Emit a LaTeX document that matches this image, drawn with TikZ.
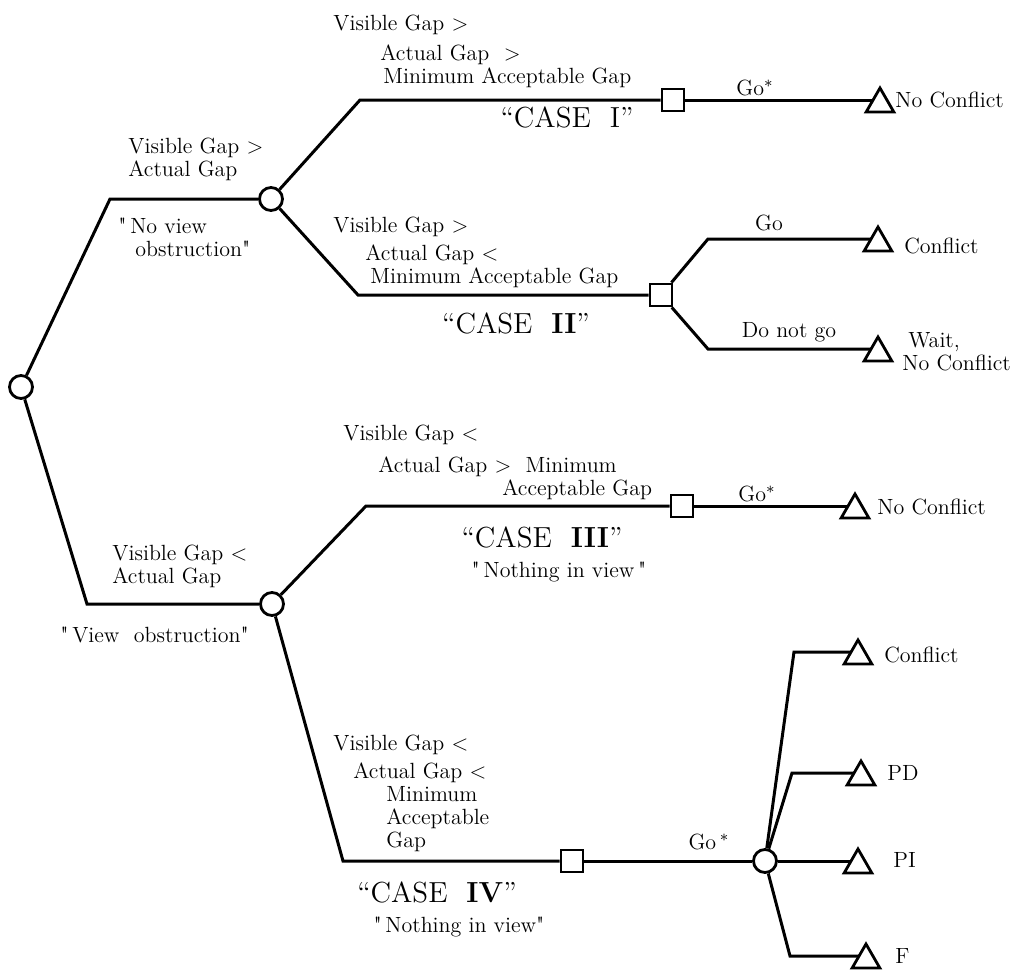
\documentclass[tikz,border=0pt]{standalone}
\usepackage{fontspec}
\usepackage{tikz}
\usetikzlibrary{shapes.geometric}
\newfontfamily\qfont{Latin Modern Roman}
\newcommand{\strq}{{\qfont"}}
\tikzset{
  chance/.style={draw, circle, line width=1.4pt, inner sep=0pt, minimum size=11.5pt, fill=white},
  decision/.style={draw, rectangle, line width=1.4pt, inner sep=0pt, minimum size=11pt, fill=white},
  outcome/.style={draw, regular polygon, regular polygon sides=3, line width=1.4pt, inner sep=0pt, outer sep=0pt, minimum size=16pt, yshift=-2pt},
  branch/.style={line width=1.5pt},
  lbl/.style={inner sep=0pt, font=\fontsize{11}{11.5}\selectfont, align=left},
  casetxt/.style={inner sep=0pt, font=\fontsize{14.5}{16}\selectfont},
}
\begin{document}
\begin{tikzpicture}[x=0.5pt, y=-0.5pt]
    \useasboundingbox (0,0) rectangle (1025,971);

    % chance and decision points
    \node[chance] (root) at (21,387) {};
    \node[chance] (nov) at (271,199) {};
    \node[chance] (obs) at (272,604) {};
    \node[decision] (d1) at (673,100) {};
    \node[decision] (d2) at (661,295) {};
    \node[decision] (d3) at (682,506) {};
    \node[decision] (d4) at (572,861) {};
    \node[chance] (c4) at (765,861) {};

    % outcomes
    \node[outcome] (t1) at (880,100) {};
    \node[outcome] (t2) at (878,239) {};
    \node[outcome] (t3) at (878,349) {};
    \node[outcome] (t4) at (855,506) {};
    \node[outcome] (t5) at (858,652) {};
    \node[outcome] (t6) at (861,773) {};
    \node[outcome] (t7) at (858,861) {};
    \node[outcome] (t8) at (866,956) {};

    % bends
    \coordinate (k1) at (110,199);
    \coordinate (k2) at (87,604);
    \coordinate (k3) at (360,100);
    \coordinate (k4) at (358,295);
    \coordinate (k5) at (708,239);
    \coordinate (k6) at (708,349);
    \coordinate (k7) at (366,506);
    \coordinate (k8) at (343,861);
    \coordinate (k9) at (794,652);
    \coordinate (k10) at (792,773);
    \coordinate (k11) at (790,956);

    \draw[branch] (root) -- (k1) -- (nov);
    \draw[branch] (root) -- (k2) -- (obs);
    \draw[branch] (nov) -- (k3) -- (d1);
    \draw[branch] (nov) -- (k4) -- (d2);
    \draw[branch] (d1) -- (t1.side 1);
    \draw[branch] (d2) -- (k5) -- (t2.side 1);
    \draw[branch] (d2) -- (k6) -- (t3.side 1);
    \draw[branch] (obs) -- (k7) -- (d3);
    \draw[branch] (d3) -- (t4.side 1);
    \draw[branch] (obs) -- (k8) -- (d4);
    \draw[branch] (d4) -- (c4);
    \draw[branch] (c4) -- (k9) -- (t5.side 1);
    \draw[branch] (c4) -- (k10) -- (t6.side 1);
    \draw[branch] (c4) -- (t7.side 1);
    \draw[branch] (c4) -- (k11) -- (t8.side 1);

    % conditions
    \node[lbl, anchor=north west] (vgtop) at (128,138) {Visible Gap >\\Actual Gap};
    \node[lbl, anchor=north west] (noobs) at (118,218) {\strq\,No view\\\hspace*{8.5pt}obstruction\strq};
    \node[lbl, anchor=north west] (vgbot) at (112,545) {Visible Gap <\\Actual Gap};
    \node[lbl, anchor=north west] (obstr) at (60,627) {\strq\,View\ \ obstruction\strq};

    \node[lbl, anchor=north west] (cond1) at (333,15) {Visible Gap >\\[3.5pt]\hspace*{23.5pt}Actual Gap\ \ >\\\hspace*{25pt}Minimum Acceptable Gap};
    \node[lbl, anchor=north west] (cond2) at (333,217) {Visible Gap >\\[2.5pt]\hspace*{16pt}Actual Gap <\\\hspace*{18.5pt}Minimum Acceptable Gap};
    \node[lbl, anchor=north west] (cond3) at (343,425) {Visible Gap <\\[4.5pt]\hspace*{17.5pt}Actual Gap >\ \ Minimum\\\hspace*{79.5pt}Acceptable Gap};
    \node[lbl, anchor=north west] (cond4) at (333,735) {Visible Gap <\\[2.5pt]\hspace*{10pt}Actual Gap <\\\hspace*{26.5pt}Minimum\\\hspace*{26.5pt}Acceptable\\\hspace*{26.5pt}Gap};

    % cases
    \node[casetxt] (case1) at (567,117) {“CASE\ \ I”};
    \node[casetxt] (case2) at (516,323) {“CASE\ \ \textbf{II}”};
    \node[casetxt] (case3) at (542,537) {“CASE\ \ \textbf{III}”};
    \node[casetxt] (case4) at (437,892) {“CASE\ \ \textbf{IV}”};
    \node[lbl] (niv3) at (559,572) {\strq\,Nothing in view\,\strq};
    \node[lbl] (niv4) at (459,927) {\strq\,Nothing in view\strq};

    % actions
    \node[lbl] (go1) at (755,88) {Go$^*$};
    \node[lbl] (go2) at (769,223) {Go};
    \node[lbl] (nogo) at (789,332) {Do not go};
    \node[lbl] (go3) at (757,494) {Go$^*$};
    \node[lbl] (go4) at (709,842) {Go\,$^*$};

    % results
    \node[lbl, anchor=west] (r1) at (895,100) {No Conflict};
    \node[lbl, anchor=west] (r2) at (904,246) {Conflict};
    \node[lbl, anchor=west] (r3) at (902,352) {\hspace*{3pt}Wait,\\No Conflict};
    \node[lbl, anchor=west] (r4) at (877,507) {No Conflict};
    \node[lbl, anchor=west] (r5) at (884,655) {Conflict};
    \node[lbl, anchor=west] (r6) at (887,773) {PD};
    \node[lbl, anchor=west] (r7) at (893,860) {PI};
    \node[lbl, anchor=west] (r8) at (895,956) {F};
\end{tikzpicture}
\end{document}
